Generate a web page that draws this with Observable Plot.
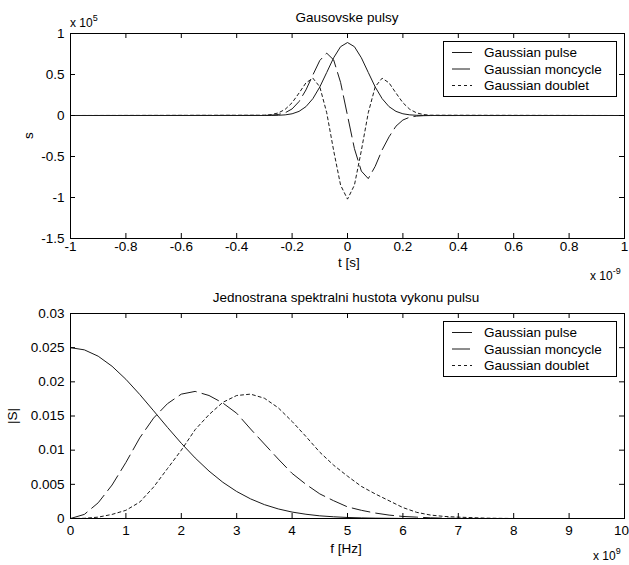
<!DOCTYPE html>
<html><head><meta charset="utf-8">
<script src="https://cdn.jsdelivr.net/npm/d3@7"></script>
<script src="https://cdn.jsdelivr.net/npm/@observablehq/plot@0.6"></script>
<style>
html,body{margin:0;padding:0;background:#fff;}
#chart{width:629px;height:565px;overflow:hidden;}
svg{display:block;}
</style></head><body><div id="chart"></div>
<script>
// ---------- data ----------
const seriesNames = ["Gaussian pulse", "Gaussian moncycle", "Gaussian doublet"];

// top panel: t in units of 1e-9 s, s in units of 1e5
const tTop = [-1, -0.3, -0.275, -0.25, -0.225, -0.2, -0.175, -0.15, -0.125, -0.1, -0.075, -0.05, -0.025, 0,
  0.025, 0.05, 0.075, 0.1, 0.125, 0.15, 0.175, 0.2, 0.225, 0.25, 0.275, 0.3, 1];
const pulseTop = [0, 0.0002, 0.0007, 0.0025, 0.0077, 0.0209, 0.0503, 0.1078, 0.2055, 0.348, 0.525, 0.704, 0.839, 0.89,
  0.839, 0.704, 0.525, 0.348, 0.2055, 0.1078, 0.0503, 0.0209, 0.0077, 0.0025, 0.0007, 0.0002, 0];
const monoTop = [0, 0.0011, 0.0039, 0.0122, 0.0334, 0.0804, 0.1696, 0.3115, 0.495, 0.671, 0.76, 0.678, 0.404, 0,
  -0.404, -0.678, -0.77, -0.62, -0.42, -0.26, -0.13, -0.055, -0.02, -0.007, -0.002, -0.0005, 0];
const doubletTop = [0, 0.0035, 0.0112, 0.0311, 0.075, 0.1556, 0.2736, 0.398, 0.455, 0.35, 0.0335, -0.428, -0.849, -1.02,
  -0.849, -0.428, 0.0335, 0.35, 0.455, 0.398, 0.2736, 0.1556, 0.075, 0.0311, 0.0112, 0.0035, 0];
const xTicksTop = [-1, -0.8, -0.6, -0.4, -0.2, 0, 0.2, 0.4, 0.6, 0.8, 1];
const yTicksTop = [-1.5, -1, -0.5, 0, 0.5, 1];

// bottom panel: f in units of 1e9 Hz
const fBot = [0, 0.25, 0.5, 0.75, 1, 1.25, 1.5, 1.75, 2, 2.25, 2.5, 2.75, 3, 3.25, 3.5, 3.75, 4, 4.25, 4.5, 4.75,
  5, 5.25, 5.5, 5.75, 6, 6.25, 6.5, 6.75, 7, 7.5, 8, 9, 10];
const pulseBot = [0.025, 0.02468, 0.02375, 0.02228, 0.02037, 0.01815, 0.01576, 0.01334, 0.01101, 0.00886, 0.00694,
  0.0053, 0.00395, 0.00287, 0.00203, 0.0014, 0.00094, 0.00062, 0.00039, 0.00025, 0.00015, 0.00009, 0.00005,
  0.00003, 0.00001, 0, 0, 0, 0, 0, 0, 0, 0];
const monoBot = [0, 0.0006, 0.0023, 0.0049, 0.0082, 0.0118, 0.0147, 0.0168, 0.0182, 0.0186, 0.018, 0.0169, 0.0154,
  0.0131, 0.0109, 0.0087, 0.0066, 0.005, 0.0036, 0.0026, 0.0017, 0.0012, 0.0008, 0.0005, 0.0003, 0.0002, 0.0001,
  0.00005, 0.00002, 0, 0, 0, 0];
const doubletBot = [0, 0.00003, 0.0002, 0.0006, 0.0012, 0.0024, 0.0046, 0.0073, 0.01, 0.013, 0.0152, 0.017, 0.018,
  0.0182, 0.0176, 0.0162, 0.0142, 0.012, 0.0097, 0.0078, 0.0062, 0.0047, 0.0036, 0.0026, 0.0016, 0.0009, 0.0005,
  0.0003, 0.0002, 0.00005, 0, 0, 0];
const xTicksBot = [0, 1, 2, 3, 4, 5, 6, 7, 8, 9, 10];
const yTicksBot = [0, 0.005, 0.01, 0.015, 0.02, 0.025, 0.03];

// ---------- styling ----------
const FONT = "'Liberation Sans', Arial, Helvetica, sans-serif";
const FS = 13.5;
const dashes = [undefined, "18,6", "3,3"];
const LINE = "#1a1a1a";
const W = 629, ML = 70, MR = 5;

function panel({xs, series, xDomain, yDomain, xTicks, yTicks, height, mt, mb, xPad, lastDx}) {
  const ph = height - mt - mb, pw = W - ML - MR;
  const fmt = d => String(d);
  const inner = xTicks.slice(0, -1), last = xTicks.slice(-1);
  return Plot.plot({
    width: W, height,
    marginLeft: ML, marginRight: MR, marginTop: mt, marginBottom: mb,
    x: {domain: xDomain},
    y: {domain: yDomain},
    style: {fontFamily: FONT, fontSize: FS + "px", background: "#fff", color: "#000", overflow: "visible"},
    marks: [
      ...series.map((vals, i) => Plot.line(vals, {x: xs, y: d => d, stroke: LINE, strokeWidth: 1,
        strokeDasharray: dashes[i]})),
      Plot.frame({stroke: "#000", strokeWidth: 1}),
      Plot.ruleX(xTicks, {x: d => d, insetTop: ph - 5, stroke: "#000"}),
      Plot.ruleX(xTicks, {x: d => d, insetBottom: ph - 5, stroke: "#000"}),
      Plot.ruleY(yTicks, {y: d => d, insetRight: pw - 5, stroke: "#000"}),
      Plot.ruleY(yTicks, {y: d => d, insetLeft: pw - 5, stroke: "#000"}),
      Plot.axisX(inner, {anchor: "bottom", tickSize: 0, tickPadding: xPad, tickFormat: fmt, label: null, fill: "#000"}),
      Plot.axisX(last, {anchor: "bottom", tickSize: 0, tickPadding: xPad, tickFormat: fmt, label: null, fill: "#000", dx: lastDx}),
      Plot.axisY(yTicks, {anchor: "left", tickSize: 0, tickPadding: 6, tickFormat: fmt, label: null, fill: "#000"})
    ]
  });
}

function addText(svg, x, y, str, o = {}) {
  const t = d3.select(svg).append("text")
    .attr("x", x).attr("y", y)
    .attr("text-anchor", o.anchor || "start")
    .attr("font-family", FONT).attr("font-size", o.size || FS)
    .attr("fill", "#000").text(str);
  if (o.rotate) t.attr("transform", `rotate(-90 ${x} ${y})`);
  return t;
}
function addExponent(svg, x, y, exp) {
  const t = addText(svg, x, y, "x 10", {size: 12});
  t.append("tspan").attr("dy", -6).attr("font-size", 9).text(exp);
}
function addLegend(svg, x0, y0) {
  const g = d3.select(svg).append("g").attr("text-anchor", "start");
  g.append("rect").attr("x", x0 + 0.5).attr("y", y0 + 0.5).attr("width", 173).attr("height", 55)
    .attr("fill", "#fff").attr("stroke", "#000");
  const rows = [11, 27.5, 44];
  seriesNames.forEach((name, i) => {
    g.append("line").attr("x1", x0 + 9).attr("x2", x0 + 29).attr("y1", y0 + rows[i] + 0.5).attr("y2", y0 + rows[i] + 0.5)
      .attr("stroke", LINE).attr("stroke-dasharray", dashes[i] || null);
    g.append("text").attr("x", x0 + 41).attr("y", y0 + rows[i] + 5).attr("text-anchor", "start")
      .attr("font-family", FONT).attr("font-size", FS).attr("fill", "#000").text(name);
  });
}

const root = document.getElementById("chart");

const topSvg = panel({
  xs: tTop, series: [pulseTop, monoTop, doubletTop],
  xDomain: [-1, 1], yDomain: [-1.5, 1], xTicks: xTicksTop, yTicks: yTicksTop,
  height: 282, mt: 33, mb: 44, xPad: 3, lastDx: 0
});
root.appendChild(topSvg);
addText(topSvg, 347, 22, "Gausovske pulsy", {anchor: "middle"});
addText(topSvg, 349, 267, "t [s]", {anchor: "middle"});
addText(topSvg, 33, 135.5, "s", {anchor: "middle", rotate: true});
addExponent(topSvg, 590, 280, "-9");
addExponent(topSvg, 70, 27, "5");
addLegend(topSvg, 443, 41);

const botSvg = panel({
  xs: fBot, series: [pulseBot, monoBot, doubletBot],
  xDomain: [0, 10], yDomain: [0, 0.03], xTicks: xTicksBot, yTicks: yTicksBot,
  height: 283, mt: 31, mb: 47, xPad: 7, lastDx: -3
});
root.appendChild(botSvg);
addText(botSvg, 346, 20, "Jednostrana spektralni hustota vykonu pulsu", {anchor: "middle"});
addText(botSvg, 346, 271, "f [Hz]", {anchor: "middle"});
addText(botSvg, 17, 134, "|S|", {anchor: "middle", rotate: true});
addExponent(botSvg, 593, 278, "9");
addLegend(botSvg, 443, 39);
</script>
</body></html>
